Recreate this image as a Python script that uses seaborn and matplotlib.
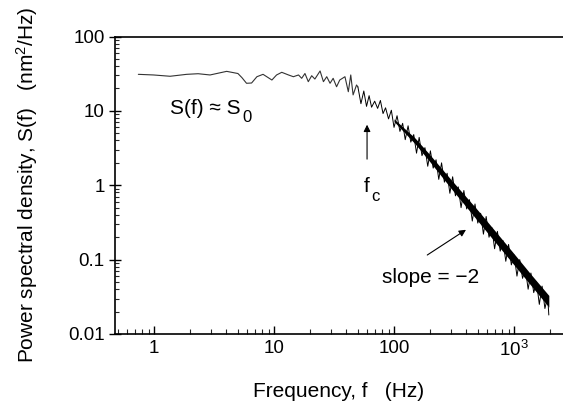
import numpy as np
import pandas as pd
import seaborn as sns
import matplotlib
matplotlib.use("Agg")
import matplotlib.pyplot as plt
from matplotlib.ticker import LogLocator, NullFormatter, FixedLocator, FixedFormatter

# flat part of the spectrum
freq_low = [0.74, 0.99, 1.36, 1.87, 2.33, 2.93, 4.03, 5.0, 5.4, 5.9, 6.5, 7.2, 8.1, 9.6,
            10.5, 11.6, 13.2, 14.5, 16.0, 17.0, 18.1, 19.3, 20.6, 21.9, 24.2, 25.8, 27.5,
            29.3, 31.1, 33.2, 35.3, 39.0, 41.6, 43.6, 45.6, 48.7, 50.0]
psd_low = [31, 30.4, 29.2, 31, 31.6, 30.4, 34, 31.8, 28, 23.5, 23.7, 28.8, 31, 26,
           30.4, 33, 30.4, 28.8, 30.4, 27.4, 31.8, 24.7, 29.7, 26.8, 34.4, 24.7, 28.8,
           23.5, 27.4, 21.1, 26, 28.8, 18.1, 30.4, 16.4, 22.3, 21]

# noisy roll-off, peaks and troughs
freq_hi = [50, 53, 56, 59, 62, 65, 69, 73, 77, 81, 85, 90, 95, 100, 106, 112, 118, 124,
           131, 138, 146, 154, 162, 171, 181, 191, 201, 212, 224, 236, 249, 263, 277, 292,
           308, 325, 343, 362, 382, 403, 425, 449, 473, 499, 527, 556, 586, 619, 653, 689,
           727, 767, 809, 854, 901, 950, 1003, 1058, 1116, 1178, 1243, 1311, 1383, 1460,
           1540, 1625, 1714, 1809, 1908, 1950]
psd_hi = [21, 12.5, 18.5, 11.5, 16, 11.2, 13.5, 10.8, 13.8, 9.2, 11, 7.8, 10.2, 6.0, 8.6,
          5.3, 6.8, 4.1, 6.3, 3.8, 4.8, 2.7, 4.4, 2.5, 3.2, 1.8, 2.9, 1.7, 2.2, 1.2, 2.0,
          1.1, 1.45, 0.78, 1.3, 0.72, 0.95, 0.5, 0.85, 0.48, 0.64, 0.33, 0.56, 0.31, 0.42,
          0.22, 0.38, 0.2, 0.27, 0.14, 0.24, 0.13, 0.18, 0.095, 0.16, 0.085, 0.115, 0.06,
          0.1, 0.056, 0.076, 0.04, 0.066, 0.036, 0.05, 0.025, 0.044, 0.022, 0.032, 0.018]

# dense band of the spectrum at high frequency
band_freq = [100, 150, 200, 300, 500, 700, 1000, 1400, 1950]
band_lo = [7.2, 3.6, 2.05, 0.9, 0.33, 0.17, 0.085, 0.044, 0.023]
band_up = [7.8, 4.3, 2.55, 1.18, 0.46, 0.24, 0.12, 0.062, 0.033]

sns.set_theme(style="ticks")
plt.rcParams['font.family'] = ['Liberation Sans', 'DejaVu Sans']
plt.rcParams['mathtext.fontset'] = 'custom'
plt.rcParams['mathtext.rm'] = 'Liberation Sans'
plt.rcParams['mathtext.it'] = 'Liberation Sans:italic'

fig = plt.figure(figsize=(5.63, 4.07), dpi=100)
ax = fig.add_axes([0.2043, 0.1794, 0.7957, 0.7309])

df_low = pd.DataFrame({"f": freq_low, "S": psd_low})
df_hi = pd.DataFrame({"f": freq_hi, "S": psd_hi})
ax.fill_between(band_freq, band_lo, band_up, color="black", lw=0)
sns.lineplot(data=df_low, x="f", y="S", ax=ax, color="#333333", lw=0.8, estimator=None)
sns.lineplot(data=df_hi, x="f", y="S", ax=ax, color="black", lw=0.7, estimator=None)

ax.set_xscale("log")
ax.set_yscale("log")
ax.set_xlim(0.473, 2560)
ax.set_ylim(0.01, 100)

ax.xaxis.set_major_locator(FixedLocator([1, 10, 100, 1000]))
ax.xaxis.set_major_formatter(FixedFormatter(["1", "10", "100", "10$^3$"]))
ax.xaxis.set_minor_locator(LogLocator(base=10, subs=np.arange(2, 10), numticks=20))
ax.xaxis.set_minor_formatter(NullFormatter())
ax.yaxis.set_major_locator(FixedLocator([0.01, 0.1, 1, 10, 100]))
ax.yaxis.set_major_formatter(FixedFormatter(["0.01", "0.1", "1", "10", "100"]))
ax.yaxis.set_minor_locator(LogLocator(base=10, subs=np.arange(2, 10), numticks=20))
ax.yaxis.set_minor_formatter(NullFormatter())

ax.tick_params(axis="x", which="major", direction="in", length=6, width=1, pad=4,
               labelsize=13.5, colors="black")
ax.tick_params(axis="x", which="minor", direction="in", length=3.5, width=0.8)
ax.tick_params(axis="y", which="major", direction="inout", length=9, width=1, pad=3,
               labelsize=13.5, colors="black")
ax.tick_params(axis="y", which="minor", direction="in", length=3, width=0.8)

for s in ["left", "bottom", "top"]:
    ax.spines[s].set_visible(True)
    ax.spines[s].set_color("black")
    ax.spines[s].set_linewidth(1.2)
ax.spines["right"].set_visible(False)

ax.set_xlabel("Frequency, f   (Hz)", fontsize=15, color="black", labelpad=16)
ax.set_ylabel("Power spectral density, S(f)   (nm$^2$/Hz)", fontsize=15, color="black",
              labelpad=20)

# S(f) ~ S0, with a large low subscript as in the original
t1 = ax.text(1.36, 10.9, "S(f) ≈ S", fontsize=15, ha="left", va="center", color="black")
ax.annotate("0", xy=(1, 0), xycoords=t1, xytext=(1, -3), textcoords="offset points",
            fontsize=12, ha="left", va="baseline", color="black")

ax.annotate("", xy=(59.6, 7.1), xytext=(59.6, 2.06),
            arrowprops=dict(arrowstyle="-|>", color="black", lw=0.8, mutation_scale=10))
t2 = ax.text(59.6, 0.95, "f", fontsize=15, ha="center", va="center", color="black")
ax.annotate("c", xy=(1, 0), xycoords=t2, xytext=(1, -3), textcoords="offset points",
            fontsize=12, ha="left", va="baseline", color="black")

ax.annotate("", xy=(416, 0.264), xytext=(181, 0.11),
            arrowprops=dict(arrowstyle="-|>", color="black", lw=0.8, mutation_scale=10))
ax.text(203, 0.0568, "slope = \u22122", fontsize=15, ha="center", va="center", color="black")

fig.savefig("out.png", dpi=100)
